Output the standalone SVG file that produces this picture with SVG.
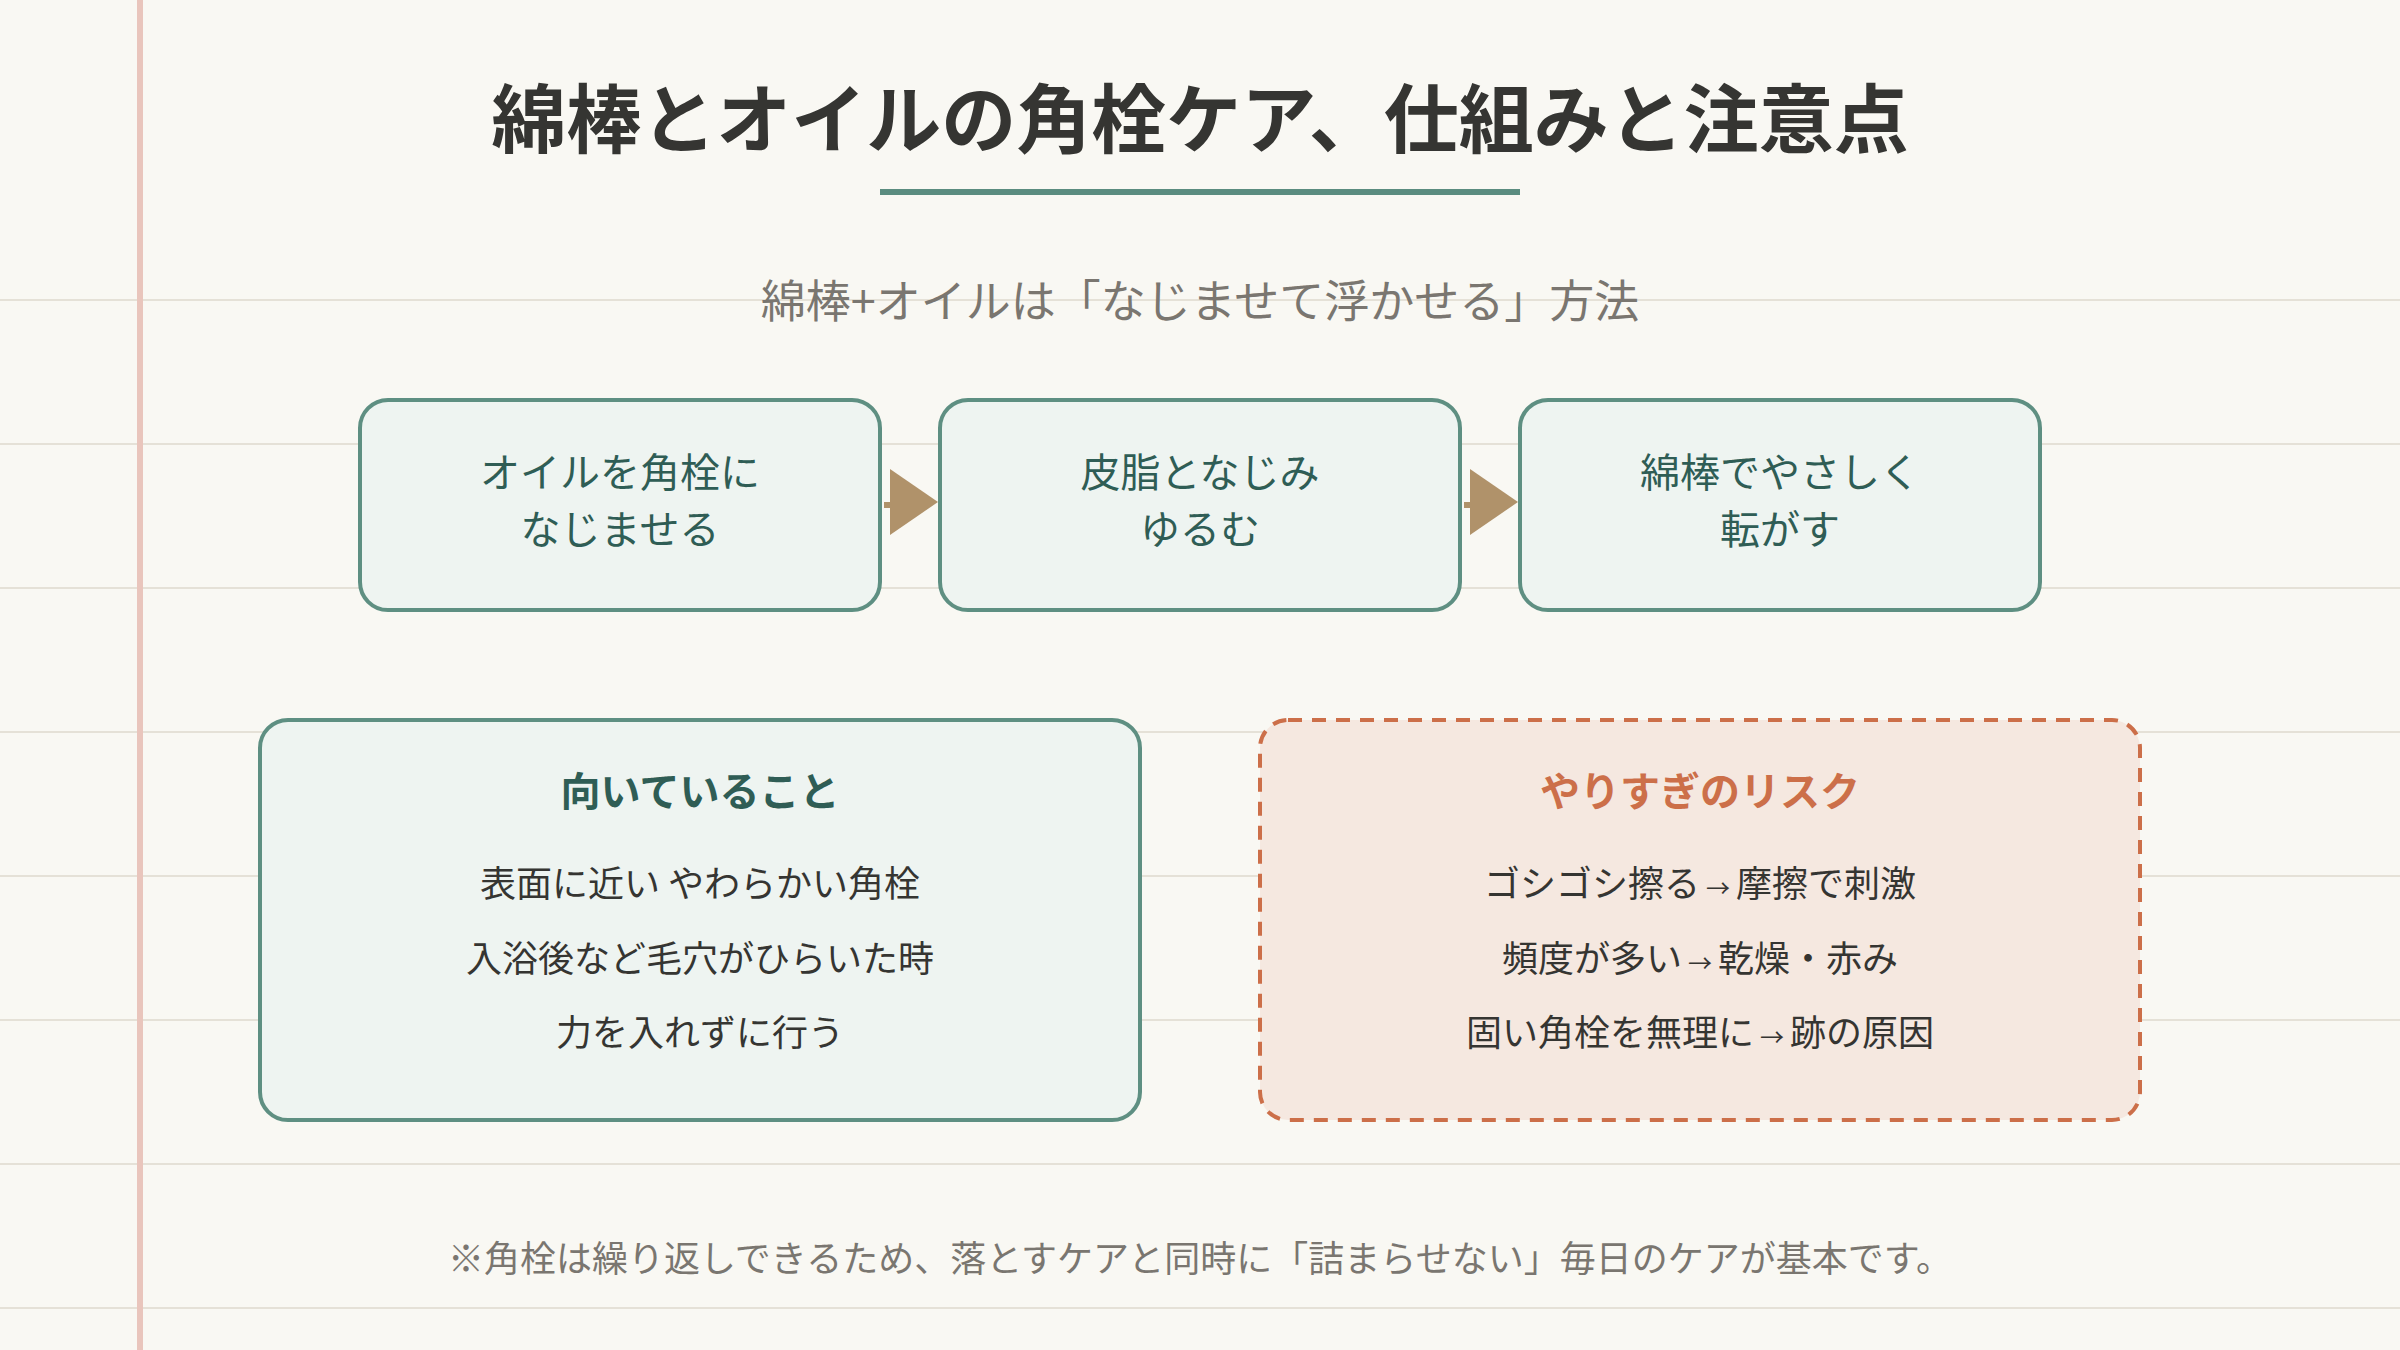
<svg xmlns="http://www.w3.org/2000/svg" width="2400" height="1350" viewBox="0 0 2400 1350">
<defs>
<style>
text{font-family:"Noto Sans CJK JP","Noto Sans CJK SC",sans-serif;text-anchor:middle}
.rule{stroke:#e5e1d7;stroke-width:2}
.title{font-size:75px;font-weight:700;fill:#353532}
.sub{font-size:45px;fill:#7a7670}
.step rect{fill:#eef4f1;stroke:#5e8f82;stroke-width:4}
.step text{font-size:40px;fill:#2f5d55}
.good rect{fill:#eef4f1;stroke:#5e8f82;stroke-width:4}
.risk rect{fill:#f5e8e0;stroke:#cc6f49;stroke-width:4;stroke-dasharray:14 10}
.h{font-size:40px;font-weight:700}
.good .h{fill:#2f5d55}
.risk .h{fill:#cc6f49}
.item{font-size:36px;fill:#353532}
.arr{font-size:24px}
.foot{font-size:36px;fill:#7a7670}
.conn{stroke:#b0926a;stroke-width:6;fill:none}
</style>
<marker id="tri" markerUnits="userSpaceOnUse" viewBox="0 0 48 66" markerWidth="48" markerHeight="66" refX="0" refY="36" orient="auto">
<path d="M0,0 L48,33 L0,66 z" fill="#b0926a"/>
</marker>
</defs>
<rect width="2400" height="1350" fill="#f9f8f3"/>
<g id="background">
<line class="rule" x1="0" y1="300" x2="2400" y2="300"/>
<line class="rule" x1="0" y1="444" x2="2400" y2="444"/>
<line class="rule" x1="0" y1="588" x2="2400" y2="588"/>
<line class="rule" x1="0" y1="732" x2="2400" y2="732"/>
<line class="rule" x1="0" y1="876" x2="2400" y2="876"/>
<line class="rule" x1="0" y1="1020" x2="2400" y2="1020"/>
<line class="rule" x1="0" y1="1164" x2="2400" y2="1164"/>
<line class="rule" x1="0" y1="1308" x2="2400" y2="1308"/>
<rect x="137" y="0" width="6" height="1350" fill="#e9c5bc"/>
</g>
<g id="header">
<text class="title" x="1200" y="147">綿棒とオイルの角栓ケア、仕組みと注意点</text>
<rect x="880" y="189" width="640" height="6" fill="#5b8c7f"/>
<text class="sub" x="1200" y="318">綿棒+オイルは「なじませて浮かせる」方法</text>
</g>
<g id="step1" class="step">
<rect x="360" y="400" width="520" height="210" rx="28"/>
<text x="620" y="487">オイルを角栓に</text>
<text x="620" y="544">なじませる</text>
</g>
<g id="step2" class="step">
<rect x="940" y="400" width="520" height="210" rx="28"/>
<text x="1200" y="487">皮脂となじみ</text>
<text x="1200" y="544">ゆるむ</text>
</g>
<g id="step3" class="step">
<rect x="1520" y="400" width="520" height="210" rx="28"/>
<text x="1780" y="487">綿棒でやさしく</text>
<text x="1780" y="544">転がす</text>
</g>
<g id="connectors">
<line class="conn" x1="884" y1="505" x2="890" y2="505" marker-end="url(#tri)"/>
<line class="conn" x1="1464" y1="505" x2="1470" y2="505" marker-end="url(#tri)"/>
</g>
<g id="suitable" class="good">
<rect x="260" y="720" width="880" height="400" rx="28"/>
<text class="h" x="700" y="806">向いていること</text>
<text class="item" x="700" y="897">表面に近い やわらかい角栓</text>
<text class="item" x="700" y="972">入浴後など毛穴がひらいた時</text>
<text class="item" x="700" y="1046">力を入れずに行う</text>
</g>
<g id="risks" class="risk">
<rect x="1260" y="720" width="880" height="400" rx="28"/>
<text class="h" x="1700" y="806">やりすぎのリスク</text>
<text class="item" x="1700" y="897">ゴシゴシ擦る<tspan class="arr" dx="6">→</tspan><tspan dx="6">摩擦で刺激</tspan></text>
<text class="item" x="1700" y="972">頻度が多い<tspan class="arr" dx="6">→</tspan><tspan dx="6">乾燥・赤み</tspan></text>
<text class="item" x="1700" y="1046">固い角栓を無理に<tspan class="arr" dx="6">→</tspan><tspan dx="6">跡の原因</tspan></text>
</g>
<g id="footer">
<text class="foot" x="1200" y="1272">※角栓は繰り返しできるため、落とすケアと同時に「詰まらせない」毎日のケアが基本です。</text>
</g>
</svg>
